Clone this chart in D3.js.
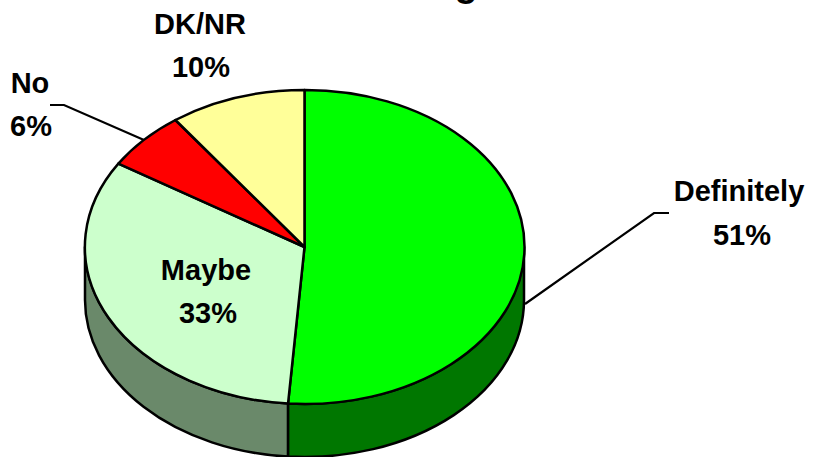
<!DOCTYPE html>
<html>
<head>
<meta charset="utf-8">
<script src="https://cdn.jsdelivr.net/npm/d3@7"></script>
<style>
html,body{margin:0;padding:0;background:#fff}
svg{display:block}
text{font-family:"Liberation Sans",Arial,sans-serif;font-weight:bold;fill:#000;text-anchor:middle}
</style>
</head>
<body>
<svg id="c" width="813" height="457"></svg>
<script>
const categories = ["Definitely", "Maybe", "No", "DK/NR"];
const values = [51.2, 32.7, 6.1, 10];
const topColors = ["#00FF00", "#CCFFCC", "#FF0000", "#FFFF99"];
const wallColors = ["#007700", "#6A896A", "#800000", "#808050"];

const cx = 304.5, cy = 247, rx = 219.5, ry = 157, depth = 53;
const svg = d3.select("#c");

const pie = d3.pie().sort(null).value(d => d.value);
const slices = pie(categories.map((name, i) => ({name, value: values[i], i})));

const px = a => cx + rx * Math.sin(a);
const py = (a, dy = 0) => cy - ry * Math.cos(a) + dy;

// side wall: only the front half (90deg to 270deg) is visible
const frontA = Math.PI / 2, frontB = Math.PI * 3 / 2;
svg.append("g").selectAll("path")
  .data(slices.filter(s => s.endAngle > frontA && s.startAngle < frontB))
  .join("path")
  .attr("d", s => {
    const a = Math.max(s.startAngle, frontA), b = Math.min(s.endAngle, frontB);
    return `M${px(a)},${py(a)}A${rx},${ry} 0 0 1 ${px(b)},${py(b)}` +
           `L${px(b)},${py(b, depth)}A${rx},${ry} 0 0 0 ${px(a)},${py(a, depth)}Z`;
  })
  .attr("fill", s => wallColors[s.data.i])
  .attr("stroke", "#000").attr("stroke-width", 2.5).attr("stroke-linejoin", "round");

// top face
const arc = d3.arc().innerRadius(0).outerRadius(1);
svg.append("g")
  .attr("transform", `translate(${cx},${cy}) scale(${rx},${ry})`)
  .selectAll("path").data(slices).join("path")
  .attr("d", arc)
  .attr("fill", s => topColors[s.data.i])
  .attr("stroke", "#000").attr("stroke-width", 2.5)
  .attr("stroke-linejoin", "round")
  .attr("vector-effect", "non-scaling-stroke");

// leader lines
const leaders = [
  [[525, 304], [654, 213], [669, 213]],
  [[50, 105], [64, 105], [144, 140]]
];
const line = d3.line();
svg.append("g").selectAll("path").data(leaders).join("path")
  .attr("d", line).attr("fill", "none")
  .attr("stroke", "#000").attr("stroke-width", 2.2);

// labels
const labelPos = [[739, 201], [206, 280], [30, 93], [200, 34]];
const valuePos = [[742, 245], [208, 323], [31, 136], [201, 77]];
const labels = svg.append("g").style("font-size", "29px");
slices.forEach((s, i) => {
  labels.append("text").attr("x", labelPos[i][0]).attr("y", labelPos[i][1]).text(s.data.name);
  labels.append("text").attr("x", valuePos[i][0]).attr("y", valuePos[i][1]).text(Math.round(s.data.value) + "%");
});

// descender of the title, cropped by the top of the picture
svg.append("text").attr("x", 466).attr("y", -4).style("font-size", "38px").text("g");
</script>
</body>
</html>
